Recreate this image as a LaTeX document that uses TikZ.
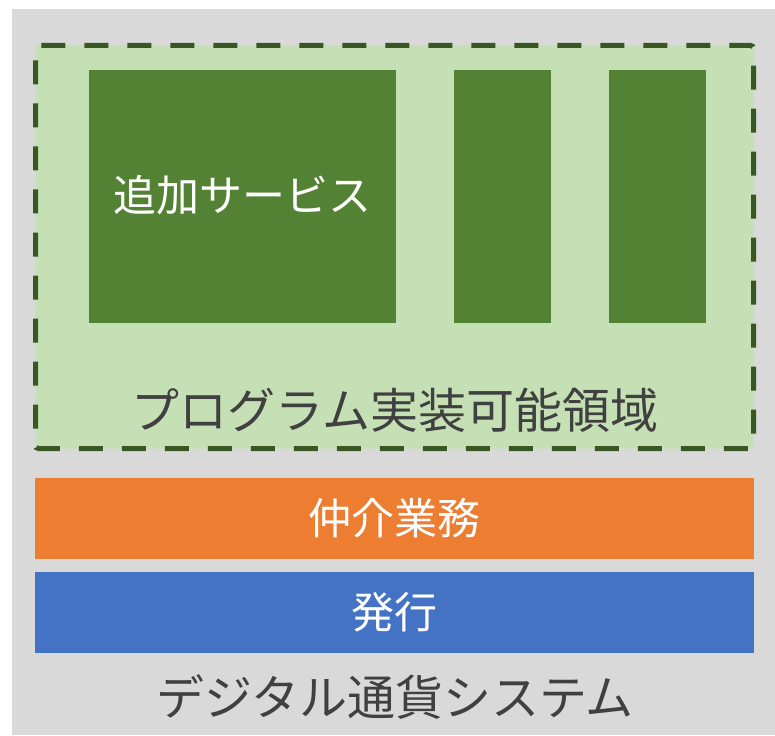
\documentclass[tikz,border=0pt]{standalone}
\usepackage{fontspec}
\newfontfamily\jp{Noto Sans CJK JP}
\definecolor{bggray}{HTML}{D9D9D9}
\definecolor{lgreen}{HTML}{C5E0B4}
\definecolor{dgreen}{HTML}{548235}
\definecolor{dashgreen}{HTML}{385723}
\definecolor{orng}{HTML}{ED7D31}
\definecolor{blu}{HTML}{4472C4}
\definecolor{txtgray}{HTML}{404040}
\begin{document}
\begin{tikzpicture}[x=1pt,y=-1pt,
  box/.style={draw=none,inner sep=0pt,outer sep=0pt},
  innertext/.style={text=white,font=\jp\fontsize{43}{50}\selectfont},
  outertext/.style={text=txtgray,font=\jp\fontsize{48}{55}\selectfont}]
\useasboundingbox (0,0) rectangle (775,735);
\fill[bggray] (12,9) rectangle (775,735);
\draw[fill=lgreen,draw=dashgreen,line width=5pt,dash pattern=on 24pt off 19pt,dash phase=-12pt,rounded corners=3pt]
  (35.5,45.5) rectangle (753.5,448.5);
\node[box,fill=dgreen,minimum width=307pt,minimum height=253pt,anchor=north west] (svc) at (89,70) {};
\node[box,fill=dgreen,minimum width=97pt,minimum height=253pt,anchor=north west] (b2) at (454,70) {};
\node[box,fill=dgreen,minimum width=97pt,minimum height=253pt,anchor=north west] (b3) at (609,70) {};
\node[innertext] (svct) at (242,195) {追加サービス};
\node[outertext] (area) at (395,410) {プログラム実装可能領域};
\node[box,fill=orng,minimum width=719pt,minimum height=81pt,anchor=north west] (broker) at (35,478) {};
\node[innertext] at (broker.center) {仲介業務};
\node[box,fill=blu,minimum width=719pt,minimum height=81pt,anchor=north west] (issue) at (35,572) {};
\node[innertext] at (issue.center) {発行};
\node[outertext] (sys) at (395,697) {デジタル通貨システム};
\end{tikzpicture}
\end{document}
